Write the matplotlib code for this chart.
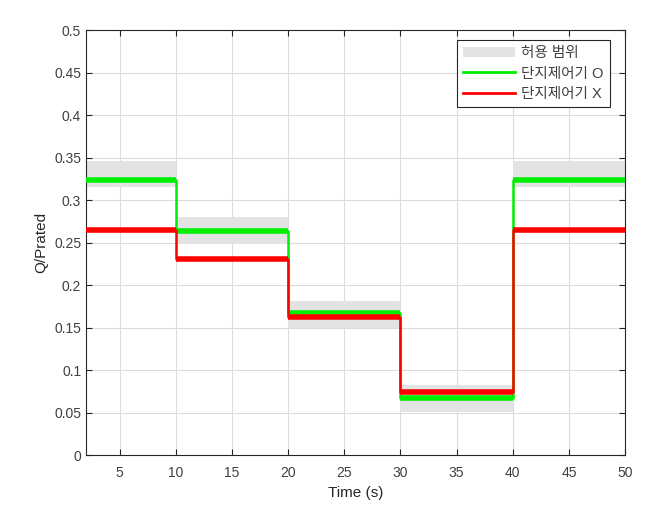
import numpy as np
from matplotlib import pyplot as plt
from matplotlib.patches import Patch
from matplotlib.lines import Line2D

plt.rcParams['font.family'] = ['Liberation Sans', 'Noto Sans CJK KR', 'DejaVu Sans']

# 구간 경계 (s)
t_edges = [2, 10, 20, 30, 40, 50]
# 허용 범위 (하한, 상한)
band_low = [0.315, 0.248, 0.149, 0.051, 0.315]
band_high = [0.346, 0.280, 0.181, 0.082, 0.346]
# 단지제어기 O / X
q_on = [0.323, 0.264, 0.167, 0.067, 0.323]
q_off = [0.265, 0.231, 0.162, 0.074, 0.265]

fig = plt.figure(figsize=(6.58, 5.27), dpi=100)
ax = fig.add_axes([0.1307, 0.1366, 0.8193, 0.8064])

t = np.array(t_edges)
ax.fill_between(t, band_low + band_low[-1:], band_high + band_high[-1:],
                step='post', color='#e3e3e3', linewidth=0, zorder=1)

# 계단 (얇은 세로선) + 구간별 굵은 가로선
for q, c, z in [(q_on, '#00ee00', 3), (q_off, '#ff0000', 4)]:
    ax.step(t, q + q[-1:], where='post', color=c, linewidth=1.8, zorder=z)
    ax.hlines(q, t[:-1], t[1:], color=c, linewidth=4, zorder=z)

ax.set_xlim(2, 50)
ax.set_ylim(0, 0.5)
ax.set_xticks(np.arange(5, 51, 5))
ax.set_yticks(np.arange(0, 0.51, 0.05))
ax.set_yticklabels(['0', '0.05', '0.1', '0.15', '0.2', '0.25', '0.3',
                    '0.35', '0.4', '0.45', '0.5'])
ax.grid(True, color='#dcdcdc', linewidth=0.8, zorder=0)
ax.set_axisbelow(True)
ax.tick_params(direction='in', length=4, colors='#262626', labelsize=10,
               top=True, right=True, labeltop=False, labelright=False)
ax.tick_params(axis='both', labelcolor='#404040')
ax.tick_params(axis='x', pad=8)
for s in ax.spines.values():
    s.set_color('#262626')
    s.set_linewidth(0.8)

ax.set_xlabel('Time (s)', fontsize=11, color='#262626')
ax.set_ylabel('Q/Prated', fontsize=11, color='#262626')

handles = [Patch(facecolor='#e3e3e3', edgecolor='none'),
           Line2D([], [], color='#00ee00', linewidth=2),
           Line2D([], [], color='#ff0000', linewidth=2)]
labels = ['허용 범위', '단지제어기 O', '단지제어기 X']
leg = ax.legend(handles, labels, loc='upper right', bbox_to_anchor=(0.985, 0.993),
                fancybox=False, edgecolor='#262626', framealpha=1,
                fontsize=10.5, handlelength=3.6, labelspacing=0.42,
                borderpad=0.42, handletextpad=0.4)
leg.get_frame().set_linewidth(0.8)
for txt in leg.get_texts():
    txt.set_color('#404040')

fig.savefig('out.png', dpi=100)
